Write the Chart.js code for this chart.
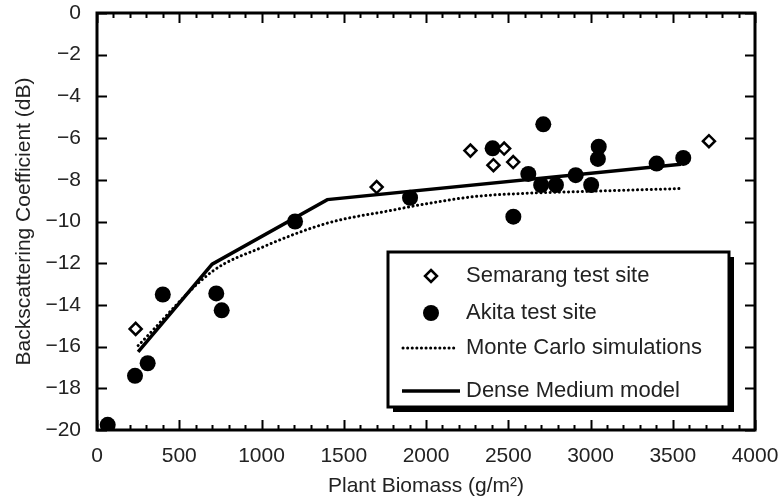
<!DOCTYPE html>
<html>
<head>
<meta charset="utf-8">
<script src="https://cdn.jsdelivr.net/npm/chart.js@4.4.0/dist/chart.umd.min.js"></script>
<style>
  html, body { margin: 0; padding: 0; background: #fff; }
  #wrap { width: 784px; height: 501px; }
</style>
</head>
<body>
<div id="wrap"><canvas id="myChart"></canvas></div>
<script>
// Mediciones de campo
var semarangX = [235, 1700, 2270, 2410, 2475, 2530, 3720];
var semarangY = [-15.15, -8.35, -6.6, -7.3, -6.5, -7.15, -6.15];

var akitaX = [65, 231, 308, 400, 725, 758, 1204, 1903, 2405, 2713, 2531, 2622, 2700, 2790, 2910, 3004, 3050, 3045, 3402, 3564];
var akitaY = [-19.75, -17.4, -16.8, -13.5, -13.45, -14.26, -10.0, -8.86, -6.49, -5.34, -9.77, -7.72, -8.25, -8.25, -7.78, -8.25, -6.41, -7.0, -7.22, -6.95];

// Modelos
var monteX = [250, 700, 1000, 1400, 1800, 2000, 2300, 2600, 3000, 3550];
var monteY = [-15.95, -12.4, -11.25, -10.08, -9.45, -9.15, -8.8, -8.65, -8.55, -8.42];

var denseX = [250, 700, 1400, 3550];
var denseY = [-16.25, -12.05, -8.95, -7.25];

var xTicks = [0, 500, 1000, 1500, 2000, 2500, 3000, 3500, 4000];
var yTicks = [0, -2, -4, -6, -8, -10, -12, -14, -16, -18, -20];

var legendLabels = ['Semarang test site', 'Akita test site', 'Monte Carlo simulations', 'Dense Medium model'];

var FONT = "'Liberation Sans', Arial, sans-serif";
var TEXT = '#222';

function toPoints(xs, ys) {
  return xs.map(function (x, i) { return { x: x, y: ys[i] }; });
}

function fmt(v) {
  return v < 0 ? '\u2212' + Math.abs(v) : String(v);
}

// Marco con marcas hacia dentro en los cuatro lados
var frameTicks = {
  id: 'frameTicks',
  afterDatasetsDraw: function (chart) {
    var ctx = chart.ctx, a = chart.chartArea;
    var sx = chart.scales.x, sy = chart.scales.y;
    ctx.save();
    ctx.strokeStyle = '#000';
    ctx.lineWidth = 2;
    ctx.beginPath();
    for (var v = 0; v <= 4000; v += 100) {
      var px = Math.round(sx.getPixelForValue(v)) + 0.5;
      var len = (v % 500 === 0) ? 10 : 5;
      ctx.moveTo(px, a.bottom); ctx.lineTo(px, a.bottom - len);
      ctx.moveTo(px, a.top); ctx.lineTo(px, a.top + len);
    }
    yTicks.forEach(function (t) {
      var py = Math.round(sy.getPixelForValue(t)) + 0.5;
      ctx.moveTo(a.left, py); ctx.lineTo(a.left + 10, py);
      ctx.moveTo(a.right, py); ctx.lineTo(a.right - 10, py);
    });
    ctx.stroke();
    ctx.lineWidth = 3;
    ctx.strokeRect(a.left, a.top, a.right - a.left, a.bottom - a.top);
    ctx.restore();
  }
};

// Leyenda en recuadro con sombra
var boxLegend = {
  id: 'boxLegend',
  afterDraw: function (chart) {
    var ctx = chart.ctx;
    var L = 388, T = 252, W = 341, H = 155;
    ctx.save();
    ctx.fillStyle = '#000';
    ctx.fillRect(L + 5, T + 5, W, H);
    ctx.fillStyle = '#fff';
    ctx.fillRect(L, T, W, H);
    ctx.strokeStyle = '#000';
    ctx.lineWidth = 3;
    ctx.strokeRect(L, T, W, H);

    var rows = [276, 313, 348, 391];
    var mx = 431;

    // rombo
    ctx.lineWidth = 2.5;
    ctx.beginPath();
    ctx.moveTo(mx, rows[0] - 6); ctx.lineTo(mx + 6, rows[0]);
    ctx.lineTo(mx, rows[0] + 6); ctx.lineTo(mx - 6, rows[0]);
    ctx.closePath();
    ctx.fillStyle = '#fff'; ctx.fill(); ctx.stroke();

    // círculo
    ctx.beginPath();
    ctx.arc(mx, rows[1], 8, 0, Math.PI * 2);
    ctx.fillStyle = '#000'; ctx.fill();

    // punteada
    ctx.beginPath();
    ctx.setLineDash([0.1, 4.5]);
    ctx.lineCap = 'round';
    ctx.lineWidth = 3;
    ctx.moveTo(403, rows[2]); ctx.lineTo(458, rows[2]);
    ctx.stroke();

    // continua
    ctx.beginPath();
    ctx.setLineDash([]);
    ctx.lineCap = 'butt';
    ctx.lineWidth = 3.5;
    ctx.moveTo(402, rows[3]); ctx.lineTo(460, rows[3]);
    ctx.stroke();

    ctx.fillStyle = TEXT;
    ctx.font = '22px ' + FONT;
    ctx.textBaseline = 'middle';
    ctx.textAlign = 'left';
    legendLabels.forEach(function (t, i) {
      ctx.fillText(t, 466, rows[i]);
    });
    ctx.restore();
  }
};

var ctx = document.getElementById('myChart').getContext('2d');
var myChart = new Chart(ctx, {
  type: 'scatter',
  data: {
    datasets: [{
      label: legendLabels[0],
      data: toPoints(semarangX, semarangY),
      pointStyle: 'rectRot',
      pointRadius: 6,
      pointBorderWidth: 2.5,
      pointBorderColor: '#000',
      pointBackgroundColor: '#fff',
      showLine: false
    }, {
      label: legendLabels[1],
      data: toPoints(akitaX, akitaY),
      pointStyle: 'circle',
      pointRadius: 8,
      pointBorderWidth: 0,
      pointBackgroundColor: '#000',
      showLine: false
    }, {
      label: legendLabels[2],
      data: toPoints(monteX, monteY),
      showLine: true,
      pointRadius: 0,
      borderColor: '#000',
      borderWidth: 3,
      borderDash: [0.1, 4.5],
      borderCapStyle: 'round',
      cubicInterpolationMode: 'monotone'
    }, {
      label: legendLabels[3],
      data: toPoints(denseX, denseY),
      showLine: true,
      pointRadius: 0,
      borderColor: '#000',
      borderWidth: 3.5,
      borderJoinStyle: 'miter'
    }]
  },
  options: {
    responsive: true,
    maintainAspectRatio: false,
    animation: false,
    events: [],
    layout: { padding: { top: 13, right: 29, left: 0, bottom: 0 } },
    plugins: {
      legend: { display: false },
      tooltip: { enabled: false }
    },
    scales: {
      x: {
        type: 'linear',
        min: 0,
        max: 4000,
        afterBuildTicks: function (s) { s.ticks = xTicks.map(function (v) { return { value: v }; }); },
        afterFit: function (s) { s.height = 71; s.paddingLeft = 0; s.paddingRight = 0; },
        grid: { display: false, drawTicks: false },
        border: { display: false },
        ticks: {
          padding: 14,
          color: TEXT,
          font: { family: FONT, size: 21 },
          maxRotation: 0,
          callback: function (v) { return fmt(v); }
        },
        title: {
          display: true,
          text: 'Plant Biomass (g/m\u00B2)',
          color: TEXT,
          font: { family: FONT, size: 21 },
          padding: { top: 0, bottom: 2 }
        }
      },
      y: {
        type: 'linear',
        min: -20,
        max: 0,
        afterBuildTicks: function (s) { s.ticks = yTicks.map(function (v) { return { value: v }; }); },
        afterFit: function (s) { s.width = 97; s.paddingTop = 0; s.paddingBottom = 0; },
        grid: { display: false, drawTicks: false },
        border: { display: false },
        ticks: {
          padding: 16,
          color: TEXT,
          font: { family: FONT, size: 21 },
          callback: function (v) { return fmt(v); }
        },
        title: {
          display: true,
          text: 'Backscattering Coefficient (dB)',
          color: TEXT,
          font: { family: FONT, size: 21 },
          padding: { top: 12, bottom: 0 }
        }
      }
    }
  },
  plugins: [frameTicks, boxLegend]
});
</script>
</body>
</html>
